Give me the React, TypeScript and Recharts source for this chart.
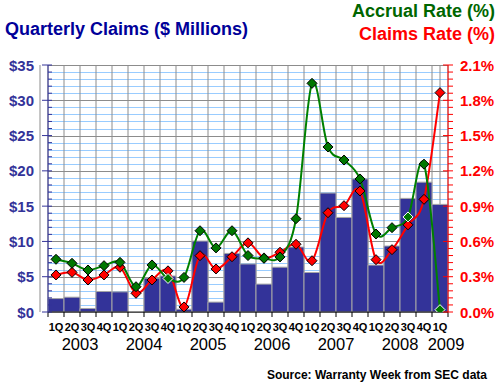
import { ComposedChart, Bar, Line, XAxis, YAxis, CartesianGrid } from 'recharts'

// quarterly claims, 1Q 2003 .. 1Q 2009
const years = ['2003', '2004', '2005', '2006', '2007', '2008', '2009']
const quarters = ['1Q', '2Q', '3Q', '4Q']
const claims = [
  1.9, 2.1, 0.5, 2.9, 2.85, 0, 4.8, 5.1, 0.4, 10.05, 1.4, 8.3,
  6.8, 3.95, 6.35, 9.2, 5.6, 16.85, 13.4, 18.85, 6.65, 9.35, 16.1, 18.4, 15.25,
]
const accrualRate = [
  0.448, 0.414, 0.357, 0.394, 0.422, 0.215, 0.4, 0.285, 0.294, 0.691, 0.545, 0.691,
  0.48, 0.456, 0.468, 0.793, 1.944, 1.403, 1.292, 1.131, 0.663, 0.717, 0.808, 1.257, 0.02,
]
const claimsRate = [
  0.315, 0.337, 0.272, 0.315, 0.38, 0.159, 0.272, 0.35, 0.043, 0.479, 0.366, 0.47,
  0.588, 0.46, 0.508, 0.576, 0.436, 0.844, 0.904, 1.029, 0.445, 0.53, 0.741, 0.958, 1.865,
]
const dollarTicks = [0, 5, 10, 15, 20, 25, 30, 35]
const rateTicks = [0, 0.3, 0.6, 0.9, 1.2, 1.5, 1.8, 2.1]

const data = claims.map((c, i) => ({
  key: `${quarters[i % 4]} ${years[Math.floor(i / 4)]}`,
  quarter: quarters[i % 4],
  year: years[Math.floor(i / 4)],
  claims: c,
  accrual: accrualRate[i],
  claimsRate: claimsRate[i],
}))

// markers that the original draws with a white outline
const whiteOutlined = new Set([7, 22, 24])

const FONT = '"Liberation Sans", Arial, sans-serif'
const W = 500
const H = 385
const PLOT_LEFT = 48
const PLOT_RIGHT = 448
const PLOT_TOP = 65
const PLOT_BOTTOM = 312
const BAND = (PLOT_RIGHT - PLOT_LEFT) / data.length
const DOLLAR_MAX = dollarTicks[dollarTicks.length - 1]
const RATE_MAX = rateTicks[rateTicks.length - 1]

const dollarMinor = Array.from({ length: DOLLAR_MAX + 1 }, (_, i) => i)
const rateMinor = dollarMinor.map((i) => Math.round((i * RATE_MAX * 100) / DOLLAR_MAX) / 100)

// catmull-rom style smoothing, close to the original's curved lines
const smoothCurve = (context: any) => {
  let pts: number[][] = []
  return {
    areaStart() {},
    areaEnd() {},
    lineStart() {
      pts = []
    },
    point(x: number, y: number) {
      pts.push([+x, +y])
    },
    lineEnd() {
      if (!pts.length) return
      context.moveTo(pts[0][0], pts[0][1])
      for (let i = 0; i < pts.length - 1; i++) {
        const p0 = pts[i - 1] ?? pts[i]
        const p1 = pts[i]
        const p2 = pts[i + 1]
        const p3 = pts[i + 2] ?? p2
        context.bezierCurveTo(
          p1[0] + (p2[0] - p0[0]) / 6,
          p1[1] + (p2[1] - p0[1]) / 6,
          p2[0] - (p3[0] - p1[0]) / 6,
          p2[1] - (p3[1] - p1[1]) / 6,
          p2[0],
          p2[1]
        )
      }
    },
  }
}

function diamond(fill: string, outlined?: Set<number>) {
  return (p: any) => {
    const { cx, cy, index, dataKey } = p
    if (cx == null || cy == null) return <g key={`${dataKey}-${index}`} />
    const s = 5
    const stroke = outlined && outlined.has(index) ? '#ffffff' : '#000000'
    return (
      <polygon
        key={`${dataKey}-${index}`}
        points={`${cx},${cy - s} ${cx + s},${cy} ${cx},${cy + s} ${cx - s},${cy}`}
        fill={fill}
        stroke={stroke}
        strokeWidth={1}
      />
    )
  }
}

function DollarTick(props: any) {
  const { x, y, payload } = props
  const v = payload.value
  const axisX = x + 14
  if (v % 5 === 0) {
    return (
      <g>
        <line x1={axisX - 6} x2={axisX + 4} y1={y} y2={y} stroke="#333399" />
        <text x={x} y={y + 5.5} textAnchor="end" fontFamily={FONT} fontSize={15} fontWeight="bold" fill="#333399">
          ${v}
        </text>
      </g>
    )
  }
  return <line x1={axisX} x2={axisX + 4} y1={y} y2={y} stroke="#333399" />
}

function RateTick(props: any) {
  const { x, y, payload } = props
  const v = payload.value
  const axisX = x - 12
  if (rateTicks.some((t) => Math.abs(t - v) < 1e-6)) {
    return (
      <g>
        <line x1={axisX - 5} x2={axisX + 5} y1={y} y2={y} stroke="#ff0000" />
        <text x={x} y={y + 5.5} textAnchor="start" fontFamily={FONT} fontSize={15} fontWeight="bold" fill="#ff0000">
          {v.toFixed(1)}%
        </text>
      </g>
    )
  }
  return <line x1={axisX} x2={axisX + 5} y1={y} y2={y} stroke="#ff0000" />
}

function QuarterTick(props: any) {
  const { x, index } = props
  const d = data[index]
  if (!d) return <g />
  const last = index === data.length - 1
  return (
    <g>
      <line x1={x - BAND / 2} x2={x - BAND / 2} y1={PLOT_BOTTOM} y2={PLOT_BOTTOM + 5} stroke="#000" />
      {last && <line x1={x + BAND / 2} x2={x + BAND / 2} y1={PLOT_BOTTOM} y2={PLOT_BOTTOM + 5} stroke="#000" />}
      <text x={x} y={PLOT_BOTTOM + 19} textAnchor="middle" fontFamily={FONT} fontSize={11} fontWeight="bold" fill="#000">
        {d.quarter}
      </text>
      {d.quarter === '2Q' && (
        <text x={x + BAND / 2} y={PLOT_BOTTOM + 38} textAnchor="middle" fontFamily={FONT} fontSize={16.5} fill="#000">
          {d.year}
        </text>
      )}
      {last && d.quarter === '1Q' && (
        <text x={x + 6} y={PLOT_BOTTOM + 38} textAnchor="middle" fontFamily={FONT} fontSize={16.5} fill="#000">
          {d.year}
        </text>
      )}
    </g>
  )
}

// the grid's vertical renderer also lays down the $1 rows on its first call
function gridLine(p: any) {
  const last = p.index === data.length - 1
  const top = Math.min(p.y1, p.y2)
  const bottom = Math.max(p.y1, p.y2)
  const step = (bottom - top) / DOLLAR_MAX
  return (
    <g key={p.key ?? `v-${p.index}`}>
      {p.index === 0 &&
        dollarMinor.map((v) => {
          const y = Math.round(bottom - v * step) + 0.5
          return (
            <line
              key={`row-${v}`}
              x1={PLOT_LEFT}
              x2={PLOT_RIGHT}
              y1={y}
              y2={y}
              stroke={v % 5 === 0 ? '#8c8c8c' : '#99ccff'}
              strokeWidth={1}
            />
          )
        })}
      <line x1={p.x1 - BAND / 2} x2={p.x1 - BAND / 2} y1={top} y2={bottom} stroke="#8c8c8c" />
      {last && <line x1={p.x1 + BAND / 2} x2={p.x1 + BAND / 2} y1={top} y2={bottom} stroke="#8c8c8c" />}
    </g>
  )
}

export default function App() {
  return (
    <div style={{ position: 'absolute', left: 0, top: 0, width: W, height: H, background: '#fff' }}>
      <ComposedChart
        width={W}
        height={H}
        data={data}
        margin={{ top: PLOT_TOP, right: 0, bottom: 43, left: 0 }}
        barCategoryGap={0}
        barGap={0}
      >
        <CartesianGrid yAxisId="dollars" horizontal={false} vertical={gridLine} />
        <XAxis
          dataKey="key"
          type="category"
          height={H - PLOT_BOTTOM - 43}
          interval={0}
          tick={<QuarterTick />}
          tickLine={false}
          tickSize={4}
          tickMargin={2}
          axisLine={{ stroke: '#1a1a1a' }}
        />
        <YAxis
          yAxisId="dollars"
          orientation="left"
          width={PLOT_LEFT}
          domain={[0, DOLLAR_MAX]}
          ticks={dollarMinor}
          interval={0}
          tick={<DollarTick />}
          tickLine={false}
          tickSize={6}
          tickMargin={8}
          axisLine={{ stroke: '#333399' }}
        />
        <YAxis
          yAxisId="rate"
          orientation="right"
          width={W - PLOT_RIGHT}
          domain={[0, RATE_MAX]}
          ticks={rateMinor}
          interval={0}
          tick={<RateTick />}
          tickLine={false}
          tickSize={5}
          tickMargin={7}
          axisLine={{ stroke: '#ff0000' }}
          allowDataOverflow
        />
        <Bar
          yAxisId="dollars"
          dataKey="claims"
          fill="#333399"
          stroke="#a6a6a6"
          strokeWidth={1}
          isAnimationActive={false}
        />
        <Line
          yAxisId="rate"
          dataKey="claimsRate"
          type={smoothCurve as any}
          stroke="#ff0000"
          strokeWidth={2}
          dot={diamond('#ff0000')}
          activeDot={false}
          isAnimationActive={false}
        />
        <Line
          yAxisId="rate"
          dataKey="accrual"
          type={smoothCurve as any}
          stroke="#008000"
          strokeWidth={2}
          dot={diamond('#007700', whiteOutlined)}
          activeDot={false}
          isAnimationActive={false}
        />
      </ComposedChart>
      <svg width={W} height={H} style={{ position: 'absolute', left: 0, top: 0, pointerEvents: 'none' }}>
        <text x={5} y={34.5} fontFamily={FONT} fontSize={18} fontWeight="bold" fill="#000099">
          Quarterly Claims ($ Millions)
        </text>
        <text x={495} y={16.5} textAnchor="end" fontFamily={FONT} fontSize={18} fontWeight="bold" fill="#006600">
          Accrual Rate (%)
        </text>
        <text x={495} y={39.5} textAnchor="end" fontFamily={FONT} fontSize={18} fontWeight="bold" fill="#ff0000">
          Claims Rate (%)
        </text>
        <text x={487} y={378.5} textAnchor="end" fontFamily={FONT} fontSize={12} fontWeight="bold" fill="#000">
          Source: Warranty Week from SEC data
        </text>
      </svg>
    </div>
  )
}
